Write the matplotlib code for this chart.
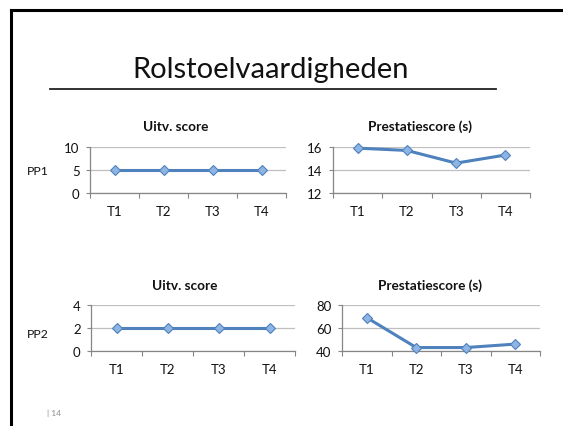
import matplotlib
matplotlib.use("Agg")
import matplotlib.pyplot as plt
from matplotlib.lines import Line2D

plt.rcParams['font.family'] = ['Lato', 'DejaVu Sans']

W, H = 563, 427
categories = ["T1", "T2", "T3", "T4"]
pp1_uitv = [5, 5, 5, 5]
pp1_prest = [15.9, 15.7, 14.6, 15.3]
pp2_uitv = [2, 2, 2, 2]
pp2_prest = [69, 43, 43, 46]

slide_title = "Rolstoelvaardigheden"
row_labels = ["PP1", "PP2"]
titles = ["Uitv. score", "Prestatiescore (s)"]

fig = plt.figure(figsize=(W / 100, H / 100), dpi=100)

def fx(px):
    return px / W

def fy(py):
    return 1 - py / H

# slide border (top and left)
fig.add_artist(Line2D([fx(11), fx(11)], [fy(11), fy(427)], color="black", lw=2.2))
fig.add_artist(Line2D([fx(11), fx(563)], [fy(11), fy(11)], color="black", lw=2.2))

# title and rule
fig.text(fx(271), fy(78), slide_title, ha="center", va="baseline", fontsize=21, color="#111111")
fig.add_artist(Line2D([fx(50), fx(496)], [fy(90), fy(90)], color="#222222", lw=1.3))

LINE = "#4F81BD"
FILL = "#8DB4E2"
GRID = "#BFBFBF"
AX = "#868686"

panels = [
    (90, 286, 148, 194, pp1_uitv, (0, 10), [0, 5, 10], titles[0], 176, 131),
    (333, 530, 148, 194, pp1_prest, (12, 16), [12, 14, 16], titles[1], 420, 131),
    (91, 295, 306, 352, pp2_uitv, (0, 4), [0, 2, 4], titles[0], 185, 290),
    (342, 540, 306, 352, pp2_prest, (40, 80), [40, 60, 80], titles[1], 430, 290),
]

for (l, r, t, b, data, ylim, yt, ttl, tx, ty) in panels:
    ax = fig.add_axes([fx(l), fy(b), (r - l) / W, (b - t) / H])
    x = list(range(len(categories)))
    ax.plot(x, data, color=LINE, lw=2.2, marker="D", markersize=5.2,
            markerfacecolor=FILL, markeredgecolor=LINE, markeredgewidth=0.8, zorder=3, clip_on=False)
    ax.set_xlim(-0.5, len(categories) - 0.5)
    ax.set_ylim(*ylim)
    ax.set_yticks(yt)
    ax.set_yticklabels([str(v) for v in yt])
    ax.set_xticks(x)
    ax.set_xticklabels(categories)
    ax.set_xticks([i - 0.5 for i in range(len(categories) + 1)], minor=True)
    ax.tick_params(axis="x", which="major", length=0, pad=9, labelsize=9.5, colors="#111111")
    ax.tick_params(axis="x", which="minor", length=3.5, width=0.8, color=AX, direction="out")
    ax.tick_params(axis="y", which="major", length=3, width=0.8, color=AX, pad=4.5, labelsize=9.5, labelcolor="#111111")
    ax.grid(axis="y", color=GRID, lw=0.9)
    ax.set_axisbelow(True)
    for s in ("top", "right"):
        ax.spines[s].set_visible(False)
    for s in ("left", "bottom"):
        ax.spines[s].set_color(AX)
        ax.spines[s].set_linewidth(0.9)
    fig.text(fx(tx), fy(ty), ttl, ha="center", va="baseline", fontsize=9.8, fontweight="bold", color="#111111")

fig.text(fx(27), fy(172), row_labels[0], ha="left", va="center", fontsize=8.8, color="#111111")
fig.text(fx(27), fy(335), row_labels[1], ha="left", va="center", fontsize=8.8, color="#111111")
fig.text(fx(47), fy(413), "| 14", ha="left", va="center", fontsize=6, color="#8C8C8C")

fig.savefig("out.png", dpi=100)
